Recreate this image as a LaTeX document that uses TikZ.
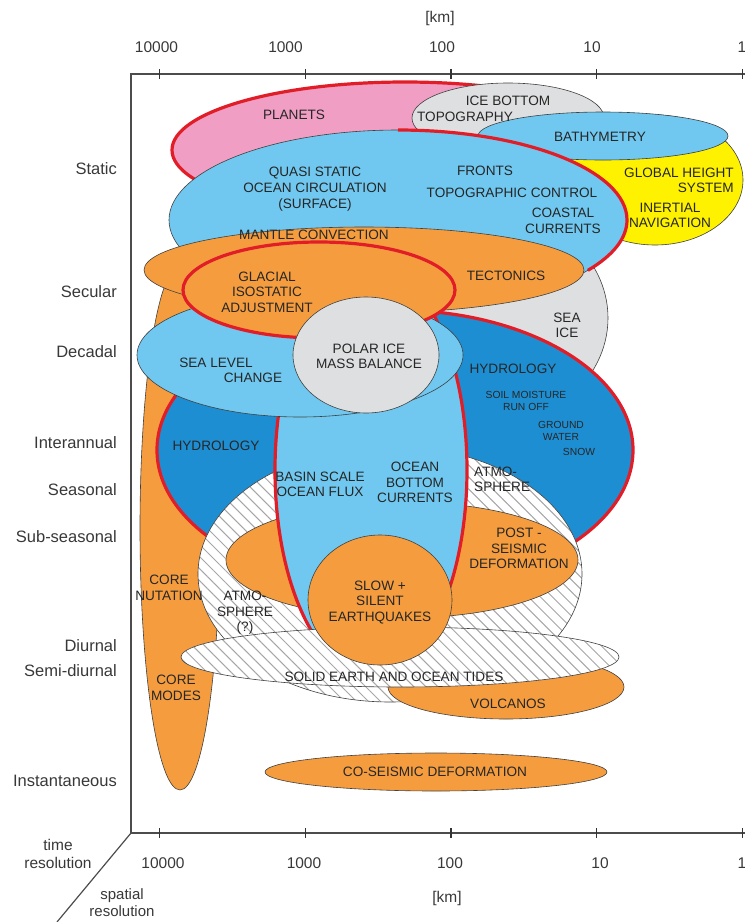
\documentclass[tikz,border=0pt]{standalone}
\usepackage{fontspec}
\setmainfont{Liberation Sans}
\usepackage{xcolor}
\usetikzlibrary{patterns.meta}
\definecolor{orng}{RGB}{245,157,62}
\definecolor{ltblue}{RGB}{112,200,240}
\definecolor{dkblue}{RGB}{30,142,210}
\definecolor{pinkish}{RGB}{240,158,196}
\definecolor{icegray}{RGB}{222,223,224}
\definecolor{yell}{RGB}{255,242,0}
\definecolor{rimred}{RGB}{225,30,40}
\begin{document}
\begin{tikzpicture}[x=1pt,y=-1pt,
  blob/.style={draw=black!75, line width=0.6pt},
  redrim/.style={draw=rimred, line width=3.2pt},
  hatch/.style={pattern={Lines[angle=-45,distance=8.5pt,line width=1pt]}, pattern color=black!35},
  lab/.style={font=\fontsize{13.6}{15.5}\selectfont, text=black!85, align=center, inner sep=0pt},
  smalllab/.style={font=\fontsize{10.3}{12}\selectfont, text=black!85, align=center, inner sep=0pt},
  axlab/.style={font=\fontsize{16.5}{18}\selectfont, text=black!78, inner sep=0pt},
  numlab/.style={font=\fontsize{15.5}{18}\selectfont, text=black!78, inner sep=0pt},
  axis line/.style={draw=black!70, line width=1.2pt},
  tick/.style={draw=black!80, line width=1.6pt}]
\useasboundingbox (0,0) rectangle (745,922);

%% frame
\coordinate (topleft) at (131,74);
\coordinate (topright) at (745,74);
\coordinate (origin) at (131,833);
\coordinate (botright) at (745,833);
\coordinate (diagend) at (57,922);
\draw [axis line] (topright) -- (topleft) -- (origin) -- (botright);
\draw [axis line] (origin) -- (diagend);
\draw [tick] (159.5,69) -- (159.5,79);
\draw [tick] (305.5,69) -- (305.5,79);
\draw [tick] (451,69) -- (451,79);
\draw [tick] (596.5,69) -- (596.5,79);
\draw [tick] (742.5,69) -- (742.5,79);
\draw [tick] (159.5,828) -- (159.5,838);
\draw [tick] (305.5,828) -- (305.5,838);
\draw [tick] (451,828) -- (451,838);
\draw [tick] (596.5,828) -- (596.5,838);
\draw [tick] (742.5,828) -- (742.5,838);

%% regions, back to front
\filldraw [blob, fill = orng] (180,528) ellipse [x radius=40, y radius=262];
\filldraw [blob, fill = icegray] (470,318) ellipse [x radius=138, y radius=115];
\filldraw [redrim, fill = pinkish] (405,150) ellipse [x radius=233, y radius=68];
\filldraw [blob, fill = icegray] (508,118) ellipse [x radius=96, y radius=35];
\filldraw [blob, fill = yell] (655,180) ellipse [x radius=88, y radius=65];
\filldraw [blob, fill = ltblue] (603,136) ellipse [x radius=125, y radius=24];
\filldraw [blob, fill = ltblue] (398,220) ellipse [x radius=229, y radius=90];
\draw [redrim] (398,130) arc [start angle=-90, end angle=34, x radius=229, y radius=90];
\filldraw [blob, fill = orng] (364,270) ellipse [x radius=220, y radius=43];
\filldraw [redrim, fill = dkblue] (395,450) ellipse [x radius=238, y radius=140];
\fill [white] (390,574) ellipse [x radius=192, y radius=128];
\fill [hatch] (390,574) ellipse [x radius=192, y radius=128];
\draw [blob] (390,574) ellipse [x radius=192, y radius=128];
\filldraw [blob, fill = orng] (402,560) ellipse [x radius=176, y radius=58];
\filldraw [redrim, fill = ltblue] (371,470) ellipse [x radius=96, y radius=205];
\filldraw [blob, fill = ltblue] (300,355) ellipse [x radius=163, y radius=62];
\filldraw [redrim, fill = orng] (319,290) ellipse [x radius=136, y radius=48];
\filldraw [blob, fill = icegray] (366,355) ellipse [x radius=73, y radius=58];
\filldraw [blob, fill = orng] (506,687) ellipse [x radius=118, y radius=32];
\fill [white] (400,657) ellipse [x radius=219, y radius=30];
\fill [hatch] (400,657) ellipse [x radius=219, y radius=30];
\draw [blob] (400,657) ellipse [x radius=219, y radius=30];
\filldraw [blob, fill = orng] (380,600) ellipse [x radius=72, y radius=65];
\filldraw [blob, fill = orng] (436,772) ellipse [x radius=171, y radius=19];

%% labels in the regions
\node [lab] (planets) at (294,115) {PLANETS};
\node [lab] (icebottom) at (508,101) {ICE BOTTOM};
\node [lab] (topography) at (465,117) {TOPOGRAPHY};
\node [lab] (bathymetry) at (600,137) {BATHYMETRY};
\node [lab, align = right, anchor = east] (height) at (734,180.5) {GLOBAL HEIGHT\\SYSTEM};
\node [lab] (inertial) at (670,215.5) {INERTIAL\\NAVIGATION};
\node [lab, font=\fontsize{13.6}{16}\selectfont] (quasi) at (315,189) {QUASI STATIC\\OCEAN CIRCULATION\\(SURFACE)};
\node [lab] (fronts) at (485,171) {FRONTS};
\node [lab] (topocontrol) at (512,193) {TOPOGRAPHIC CONTROL};
\node [lab] (coastal) at (563,221) {COASTAL\\CURRENTS};
\node [lab] (mantle) at (314,235) {MANTLE CONVECTION};
\node [lab] (tectonics) at (506,276) {TECTONICS};
\node [lab] (gia) at (267,292) {GLACIAL\\ISOSTATIC\\ADJUSTMENT};
\node [lab] (sealevel) at (216,363) {SEA LEVEL};
\node [lab] (change) at (253,378) {CHANGE};
\node [lab] (polar) at (369,356.5) {POLAR ICE\\MASS BALANCE};
\node [lab] (seaice) at (567,325.5) {SEA\\ICE};
\node [lab] (hydroright) at (513,369) {HYDROLOGY};
\node [smalllab] (soil) at (526,401) {SOIL MOISTURE\\RUN OFF};
\node [smalllab] (ground) at (561,431) {GROUND\\WATER};
\node [smalllab] (snow) at (579,452) {SNOW};
\node [lab] (hydroleft) at (216,446) {HYDROLOGY};
\node [lab] (basin) at (320,484.5) {BASIN SCALE\\OCEAN FLUX};
\node [lab] (bottomcur) at (415,482.5) {OCEAN\\BOTTOM\\CURRENTS};
\node [lab, align = left, anchor = west] (atmoright) at (474,479.5) {ATMO-\\SPHERE};
\node [lab] (postseis) at (519,548.5) {POST -\\SEISMIC\\DEFORMATION};
\node [lab, font=\fontsize{13.6}{16}\selectfont] (nutation) at (169,588) {CORE\\NUTATION};
\node [lab] (atmoleft) at (245,613) {ATMO-\\SPHERE\\(?)};
\node [lab] (slow) at (380,602.5) {SLOW +\\SILENT\\EARTHQUAKES};
\node [lab] (tides) at (394,677) {SOLID EARTH AND OCEAN TIDES};
\node [lab] (volcanos) at (508,704) {VOLCANOS};
\node [lab] (modes) at (176,688) {CORE\\MODES};
\node [lab] (coseismic) at (435,772) {CO-SEISMIC DEFORMATION};

%% time axis
\node [axlab, anchor = east] (static) at (117,169) {Static};
\node [axlab, anchor = east] (secular) at (117,292) {Secular};
\node [axlab, anchor = east] (decadal) at (117,352) {Decadal};
\node [axlab, anchor = east] (interannual) at (117,443) {Interannual};
\node [axlab, anchor = east] (seasonal) at (117,490) {Seasonal};
\node [axlab, anchor = east] (subseasonal) at (117,537) {Sub-seasonal};
\node [axlab, anchor = east] (diurnal) at (117,646) {Diurnal};
\node [axlab, anchor = east] (semidiurnal) at (117,671) {Semi-diurnal};
\node [axlab, anchor = east] (instant) at (117,781) {Instantaneous};

%% space axes
\node [numlab] (kmtop) at (440,18) {[km]};
\node [numlab] (t10000) at (156.5,47) {10000};
\node [numlab] (t1000) at (285.5,47) {1000};
\node [numlab] (t100) at (442,47) {100};
\node [numlab] (t10) at (592,47) {10};
\node [numlab] (t1) at (742,47) {1};
\node [numlab] (b10000) at (163,863) {10000};
\node [numlab] (b1000) at (304,863) {1000};
\node [numlab] (b100) at (450,863) {100};
\node [numlab] (b10) at (600,863) {10};
\node [numlab] (b1) at (742,863) {1};
\node [numlab] (kmbottom) at (447,898) {[km]};
\node [numlab, align = center, font=\fontsize{15.5}{18}\selectfont] (timeres) at (58,854) {time\\resolution};
\node [numlab, align = center, font=\fontsize{15}{17}\selectfont] (spatialres) at (122,903) {spatial\\resolution};
\end{tikzpicture}
\end{document}
